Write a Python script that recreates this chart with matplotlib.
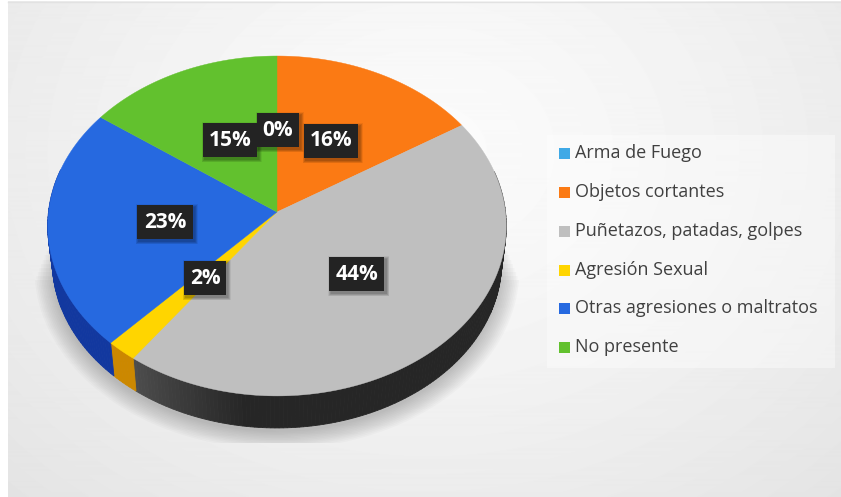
import matplotlib
matplotlib.use('Agg')
import matplotlib.pyplot as plt
from matplotlib.patches import Rectangle
import numpy as np

categories = ['Arma de Fuego', 'Objetos cortantes', 'Puñetazos, patadas, golpes',
              'Agresión Sexual', 'Otras agresiones o maltratos', 'No presente']
values = [0, 16, 44, 2, 23, 15]
colors = ['#3fa9e6', '#fb7a14', '#bfbfbf', '#ffd500', '#2669e0', '#62c12e']
side_colors = ['#1f6f9e', '#b85a10', '#262626', '#cc8800', '#12389f', '#3f8a1c']

# label box centres, px
label_pos = [(278, 130), (331, 141), (357, 274), (205, 278), (165, 222), (230, 140)]
label_w = [42, 54, 55, 42, 56, 54]

plt.rcParams['font.family'] = ['Open Sans', 'DejaVu Sans']

# perspective disc
cx, cy = 277, 212
a, b, p = 228.5, 168.8, 0.0822
depth, shrink = 35.7, 0.98


def top_xy(t):
    u, v = np.sin(t), np.cos(t)
    w = 1 + p*v
    return cx + a*u/w, cy - b*v/w


def bottom_xy(t):
    x, y = top_xy(t)
    return cx + (x - cx)*shrink, cy + (y - cy)*shrink + depth


fig = plt.figure(figsize=(8.41, 4.97), dpi=100)
ax = fig.add_axes([0, 0, 1, 1])

# background
yy, xx = np.mgrid[0:497, 0:833]
r = np.sqrt(((xx - 420)/560.0)**2 + ((yy - 150)/450.0)**2)
bg = np.clip(0.985 - 0.085*r**1.3, 0.89, 1)
ax.imshow(bg, extent=(8, 841, 497, 1), cmap='gray', vmin=0, vmax=1, aspect='auto', zorder=0)
ax.set_xlim(0, 841)
ax.set_ylim(497, 0)
ax.axis('off')
ax.plot([8, 841], [2, 2], color='#e2e2e2', lw=1, zorder=1)

# soft shadow under the pie, outer layers start lower so it fades upward
t = np.linspace(0, 2*np.pi, 240)
bx, by = bottom_xy(t)
for grow in np.linspace(18, 0, 12):
    sx = cx + (bx - cx)*(1 + grow/228.0)
    sy = cy + 4 + (by - cy)*(1 + grow/228.0)
    top = 235 + grow*2.5
    clip = Rectangle((35, top), 487, 443 - top, transform=ax.transData)
    poly = ax.fill(sx, sy, color='#666666', alpha=0.035, lw=0, zorder=2)[0]
    poly.set_clip_path(clip)

# cumulative angles, clockwise from the top
edges = np.cumsum([0] + values)/float(sum(values))*2*np.pi

# side wall
for i in range(len(values)):
    n = max(int((edges[i+1] - edges[i])*60), 1)
    ts = np.linspace(edges[i], edges[i+1], n + 1)
    for t0, t1 in zip(ts[:-1], ts[1:]):
        if np.cos((t0 + t1)/2) > 0.25:
            continue
        col = side_colors[i]
        if i == 2:
            # lighter part of the dark wall close to the yellow slice
            f = np.clip((np.degrees(t1) - 188)/28.0, 0, 1)
            g = 0.15 + 0.15*f
            col = (g, g, g)
        x0, y0 = top_xy(t0)
        x1, y1 = top_xy(t1)
        x2, y2 = bottom_xy(t1)
        x3, y3 = bottom_xy(t0)
        ax.fill([x0, x1, x2, x3], [y0, y1, y2, y3], color=col, lw=0.6, zorder=3)

# top face
for i in range(len(values)):
    if values[i] == 0:
        continue
    ts = np.linspace(edges[i], edges[i+1], 150)
    x, y = top_xy(ts)
    ax.fill(np.r_[cx, x], np.r_[cy, y], color=colors[i], lw=0.3, zorder=4)

# data labels
for i in range(len(values)):
    xc, yc = label_pos[i]
    w, h = label_w[i], 34
    for k in range(6, 0, -1):
        ax.add_patch(Rectangle((xc - w/2 + 2 - k/2, yc - h/2 + 2 - k/2), w + k, h + k,
                               color='black', alpha=0.06, lw=0, zorder=5))
    ax.add_patch(Rectangle((xc - w/2, yc - h/2), w, h, color='#232323', lw=0, zorder=6))
    ax.text(xc, yc, '%d%%' % values[i], color='white', fontsize=15, fontweight='bold',
            ha='center', va='center', zorder=7)

# legend
ax.add_patch(Rectangle((547, 135), 288, 233, color='white', alpha=0.4, lw=0, zorder=2))
legend_y = [153, 192, 231, 270, 308, 347]
for i in range(len(categories)):
    ax.add_patch(Rectangle((559, legend_y[i] - 5.5), 11, 11, color=colors[i], lw=0, zorder=4))
    ax.text(575, legend_y[i], categories[i], color='#404040', fontsize=13,
            ha='left', va='center', zorder=4)

fig.savefig('out.png', dpi=100)
